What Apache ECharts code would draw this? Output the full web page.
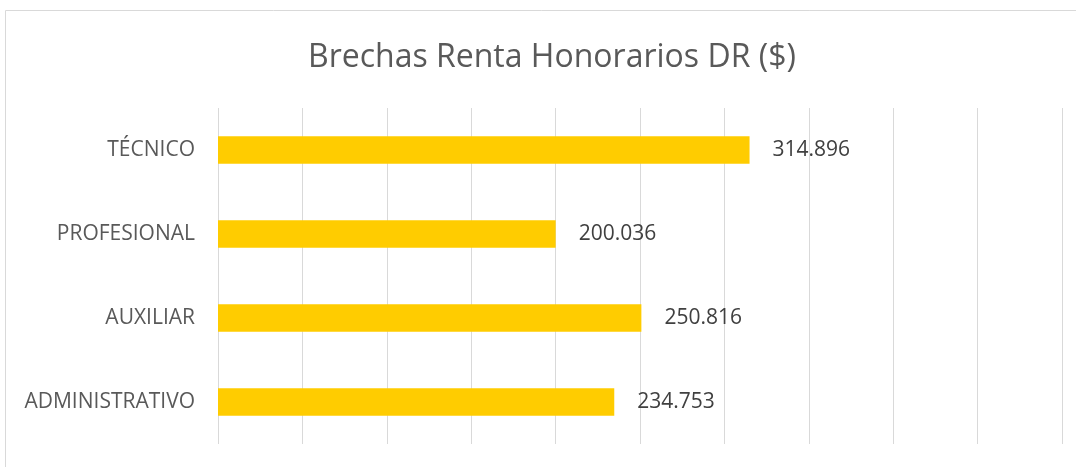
<!DOCTYPE html>
<html>
<head>
<meta charset="utf-8">
<script src="https://cdn.jsdelivr.net/npm/echarts@6/dist/echarts.min.js"></script>
<style>
  html, body { margin: 0; padding: 0; background: #fff; }
  #chart { width: 1076px; height: 467px; }
</style>
</head>
<body>
<div id="chart"></div>
<script>
const categories = ['ADMINISTRATIVO', 'AUXILIAR', 'PROFESIONAL', 'TÉCNICO']
const values = [234753, 250816, 200036, 314896]
const title = 'Brechas Renta Honorarios DR ($)'

const fmt = v => String(v).replace(/\B(?=(\d{3})+(?!\d))/g, '.')

const myChart = echarts.init(document.getElementById('chart'))
myChart.setOption({
  animation: false,
  textStyle: { fontFamily: 'Open Sans' },
  title: {
    text: title,
    left: 303,
    top: 37,
    textStyle: { fontSize: 32, fontWeight: 'normal', color: '#595959', fontFamily: 'Open Sans' }
  },
  graphic: [{
    type: 'rect',
    shape: { x: 5.5, y: 10.5, width: 1100, height: 500 },
    style: { fill: 'none', stroke: '#d9d9d9', lineWidth: 1 },
    silent: true
  }],
  grid: { left: 218, right: 14, top: 108, bottom: 23 },
  xAxis: {
    type: 'value',
    min: 0,
    max: 500000,
    interval: 50000,
    axisLabel: { show: false },
    axisLine: { show: false },
    axisTick: { show: false },
    splitLine: { show: true, lineStyle: { color: '#d9d9d9', width: 1 } }
  },
  yAxis: {
    type: 'category',
    data: categories,
    axisLine: { show: false },
    axisTick: { show: false },
    axisLabel: { color: '#595959', fontSize: 21, margin: 23 }
  },
  series: [
    {
      name: 'Brecha',
      type: 'bar',
      data: values,
      barWidth: '33%',
      itemStyle: { color: '#ffcc00' },
      label: {
        show: true,
        position: 'right',
        distance: 23,
        color: '#404040',
        fontSize: 21,
        formatter: p => fmt(p.value)
      }
    }
  ]
})
</script>
</body>
</html>
